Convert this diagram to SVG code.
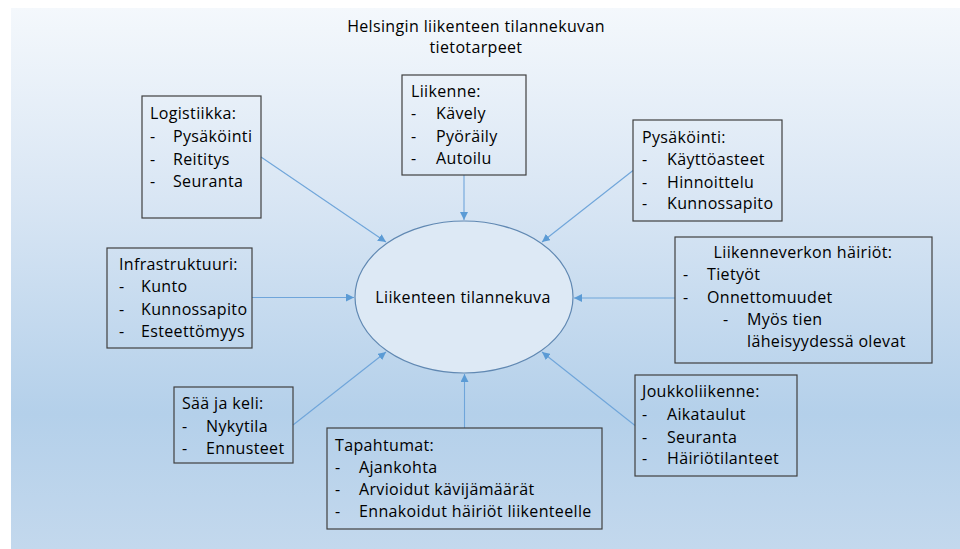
<svg xmlns="http://www.w3.org/2000/svg" width="960" height="549" viewBox="0 0 960 549">
<defs>
<linearGradient id="bg" x1="0" y1="0" x2="0" y2="1">
<stop offset="0" stop-color="#f4f8fc"/>
<stop offset="0.35" stop-color="#d9e6f4"/>
<stop offset="0.75" stop-color="#b4d0ea"/>
<stop offset="1" stop-color="#c3d8ed"/>
</linearGradient>
<marker id="arr" markerUnits="userSpaceOnUse" markerWidth="9" markerHeight="8" refX="8" refY="4" orient="auto">
<path d="M0,0 L8,4 L0,8 z" fill="#5b9bd5"/>
</marker>
<style>
text{font-family:"Open Sans","Liberation Sans",sans-serif;font-size:16px;fill:#000;letter-spacing:0.35px}
.box{fill:none;stroke:#404040;stroke-width:1.2}
.con line{stroke:#6fa5da;stroke-width:1.1;marker-end:url(#arr)}
.c{text-anchor:middle}
</style>
</defs>
<rect x="0" y="0" width="960" height="549" fill="#ffffff"/>
<rect x="11" y="8" width="949" height="541" fill="url(#bg)"/>
<g id="title">
<text class="c" x="476" y="32">Helsingin liikenteen tilannekuvan</text>
<text class="c" x="476" y="53">tietotarpeet</text>
</g>
<g id="connectors" class="con">
<line x1="261" y1="157" x2="386" y2="242"/>
<line x1="464" y1="175" x2="464" y2="220"/>
<line x1="633" y1="170.5" x2="542" y2="242"/>
<line x1="252" y1="297.5" x2="354" y2="297.5"/>
<line x1="675" y1="298" x2="574" y2="298"/>
<line x1="293" y1="425" x2="386" y2="352"/>
<line x1="635" y1="425.5" x2="542" y2="352"/>
<line x1="464.5" y1="428" x2="464.5" y2="374"/>
</g>
<g id="center">
<ellipse cx="464" cy="297" rx="109" ry="76" fill="#dde9f5" stroke="#6088b2" stroke-width="1.2"/>
<text class="c" x="463" y="303">Liikenteen tilannekuva</text>
</g>
<g id="logistiikka">
<rect class="box" x="142" y="96" width="119" height="122"/>
<text x="150" y="119">Logistiikka:</text>
<text x="150" y="142">-</text><text x="173" y="142">Pysäköinti</text>
<text x="150" y="165">-</text><text x="173" y="165">Reititys</text>
<text x="150" y="187">-</text><text x="173" y="187">Seuranta</text>
</g>
<g id="liikenne">
<rect class="box" x="402" y="75" width="124" height="100"/>
<text x="411" y="97">Liikenne:</text>
<text x="411" y="119">-</text><text x="436" y="119">Kävely</text>
<text x="411" y="142">-</text><text x="436" y="142">Pyöräily</text>
<text x="411" y="164">-</text><text x="436" y="164">Autoilu</text>
</g>
<g id="pysakointi">
<rect class="box" x="633" y="120" width="149" height="101"/>
<text x="642" y="143">Pysäköinti:</text>
<text x="642" y="165">-</text><text x="667" y="165">Käyttöasteet</text>
<text x="642" y="188">-</text><text x="667" y="188">Hinnoittelu</text>
<text x="642" y="209">-</text><text x="667" y="209">Kunnossapito</text>
</g>
<g id="infrastruktuuri">
<rect class="box" x="107" y="248" width="145" height="100"/>
<text x="119" y="270">Infrastruktuuri:</text>
<text x="119" y="292">-</text><text x="141" y="292">Kunto</text>
<text x="119" y="315">-</text><text x="141" y="315">Kunnossapito</text>
<text x="119" y="337">-</text><text x="141" y="337">Esteettömyys</text>
</g>
<g id="hairiot">
<rect class="box" x="675" y="237" width="257" height="126"/>
<text class="c" x="803" y="258">Liikenneverkon häiriöt:</text>
<text x="683" y="280">-</text><text x="707" y="280">Tietyöt</text>
<text x="683" y="303">-</text><text x="707" y="303">Onnettomuudet</text>
<text x="723" y="325">-</text><text x="747" y="325">Myös tien</text>
<text x="747" y="347">läheisyydessä olevat</text>
</g>
<g id="saa">
<rect class="box" x="174" y="387" width="119" height="76"/>
<text x="182" y="409">Sää ja keli:</text>
<text x="182" y="432">-</text><text x="206" y="432">Nykytila</text>
<text x="182" y="454">-</text><text x="206" y="454">Ennusteet</text>
</g>
<g id="tapahtumat">
<rect class="box" x="327" y="428" width="275" height="101"/>
<text x="335" y="451">Tapahtumat:</text>
<text x="335" y="473">-</text><text x="359" y="473">Ajankohta</text>
<text x="335" y="495">-</text><text x="359" y="495">Arvioidut kävijämäärät</text>
<text x="335" y="517">-</text><text x="359" y="517">Ennakoidut häiriöt liikenteelle</text>
</g>
<g id="joukkoliikenne">
<rect class="box" x="635" y="375" width="162" height="101"/>
<text x="642" y="397">Joukkoliikenne:</text>
<text x="642" y="420">-</text><text x="667" y="420">Aikataulut</text>
<text x="642" y="443">-</text><text x="667" y="443">Seuranta</text>
<text x="642" y="464">-</text><text x="667" y="464">Häiriötilanteet</text>
</g>
</svg>
